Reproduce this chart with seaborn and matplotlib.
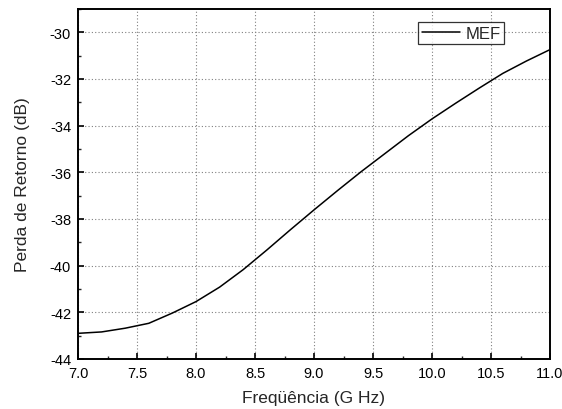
import matplotlib
matplotlib.use("Agg")
import matplotlib.pyplot as plt
import seaborn as sns
import pandas as pd
import numpy as np
from matplotlib.ticker import MultipleLocator

freq = [7.0, 7.2, 7.4, 7.6, 7.8, 8.0, 8.2, 8.4, 8.6, 8.8, 9.0,
        9.2, 9.4, 9.6, 9.8, 10.0, 10.2, 10.4, 10.6, 10.8, 11.0]
mef = [-42.90, -42.84, -42.68, -42.47, -42.03, -41.54, -40.92, -40.17, -39.33, -38.46, -37.61,
       -36.78, -35.97, -35.20, -34.43, -33.71, -33.04, -32.39, -31.76, -31.23, -30.74]

sns.set_style("ticks")
plt.rcParams['font.family'] = ['Liberation Sans', 'DejaVu Sans']
plt.rcParams['axes.unicode_minus'] = False

df = pd.DataFrame({"Freq": freq, "MEF": mef})

fig = plt.figure(figsize=(5.62, 4.10), dpi=100)
ax = fig.add_axes([78/562, 1-360/410, (550-78)/562, (360-10)/410])

sns.lineplot(data=df, x="Freq", y="MEF", ax=ax, color="black", linewidth=1.1, label="MEF")

ax.set_xlim(7.0, 11.0)
ax.set_ylim(-44, -29)
ax.xaxis.set_major_locator(MultipleLocator(0.5))
ax.xaxis.set_minor_locator(MultipleLocator(0.25))
ax.yaxis.set_major_locator(MultipleLocator(2))
ax.yaxis.set_minor_locator(MultipleLocator(1))
ax.xaxis.set_major_formatter(matplotlib.ticker.FormatStrFormatter('%.1f'))

ax.grid(True, which='major', linestyle=(0, (1, 2)), color='#808080', linewidth=0.8)
ax.tick_params(which='major', direction='in', length=4.5, width=1.2, labelsize=10.5, colors='black', pad=5)
ax.tick_params(which='minor', direction='in', length=2.5, width=1.0)
ax.tick_params(top=False, right=False, which='both')
for s in ax.spines.values():
    s.set_linewidth(1.4)
    s.set_color('black')

ax.set_xlabel("Freqüência (G Hz)", fontsize=12.5, labelpad=7)
ax.set_ylabel("Perda de Retorno (dB)", fontsize=12.5, labelpad=14)

leg = ax.legend(loc='upper right', fontsize=12, frameon=True, fancybox=False, edgecolor='black',
                handlelength=2.3, handletextpad=0.3, borderpad=0.22, borderaxespad=0.0)
leg.get_frame().set_linewidth(0.9)
leg.set_bbox_to_anchor((504/562, 1-23/410), transform=fig.transFigure)

fig.savefig("out.png", dpi=100)
